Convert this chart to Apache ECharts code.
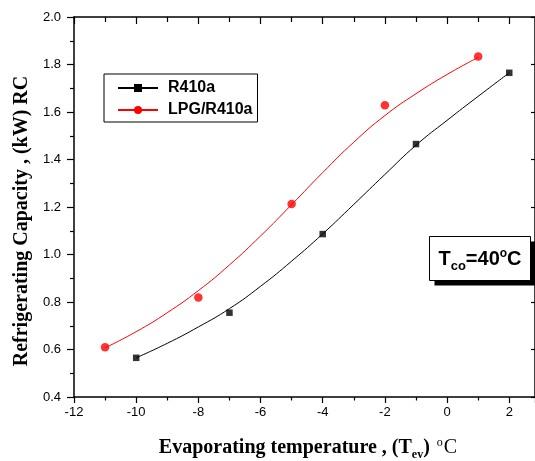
<!DOCTYPE html>
<html>
<head>
<meta charset="utf-8">
<script src="https://cdn.jsdelivr.net/npm/echarts@6/dist/echarts.min.js"></script>
<style>
html,body{margin:0;padding:0;background:#fff;}
#c{width:535px;height:461px;}
</style>
</head>
<body>
<div id="c"></div>
<script>
// Measured data points
const r410X = [-10, -7, -4, -1, 2];
const r410Y = [0.565, 0.755, 1.086, 1.465, 1.765];
const lpgX = [-11, -8, -5, -2, 1];
const lpgY = [0.609, 0.819, 1.213, 1.628, 1.834];

// Fitted curves
const r410CurveX = [-10, -9, -8, -7, -6, -5, -4, -3, -2, -1, 0, 1, 2];
const r410CurveY = [0.565, 0.626, 0.695, 0.772, 0.866, 0.972, 1.087, 1.211, 1.337, 1.460, 1.565, 1.666, 1.765];
const lpgCurveX = [-11, -10, -9, -8, -7, -6, -5, -4, -3, -2, -1, 0, 1];
const lpgCurveY = [0.607, 0.675, 0.755, 0.848, 0.956, 1.078, 1.21, 1.345, 1.473, 1.585, 1.677, 1.758, 1.83];

const xTicks = [-12, -10, -8, -6, -4, -2, 0, 2];
const yTicks = [0.4, 0.6, 0.8, 1.0, 1.2, 1.4, 1.6, 1.8, 2.0];

const zip = (a, b) => a.map((v, i) => [v, b[i]]);

const chart = echarts.init(document.getElementById('c'), null, {renderer: 'canvas'});
const axisLine = {show: true, onZero: false, lineStyle: {color: '#000', width: 1.5}};
const xFmt = v => (xTicks.indexOf(Math.round(v * 1000) / 1000) >= 0 ? String(v) : '');
const yFmt = v => (Math.abs(v - Math.round(v * 10) / 10) < 1e-6 ? v.toFixed(1) : '');

chart.setOption({
  animation: false,
  backgroundColor: '#fff',
  grid: {left: 74, right: 0, top: 17, bottom: 64},
  legend: {
    data: ['R410a', 'LPG/R410a'],
    orient: 'vertical',
    left: 104, top: 74,
    itemWidth: 40, itemHeight: 10, itemGap: 6,
    padding: [6, 5, 4, 13],
    borderColor: '#000', borderWidth: 1,
    backgroundColor: '#fff',
    textStyle: {fontFamily: 'Liberation Sans, Arial', fontWeight: 'bold', fontSize: 16, color: '#000', lineHeight: 16, padding: [0, 0, 0, 5]}
  },
  xAxis: [{
    type: 'value', position: 'bottom', min: -12, max: 2.828, interval: 2,
    axisLine: axisLine,
    axisTick: {show: true, inside: false, length: 6, lineStyle: {color: '#000', width: 1.2}},
    minorTick: {show: true, splitNumber: 2, length: 3.5, lineStyle: {color: '#000', width: 1.2}},
    splitLine: {show: false},
    axisLabel: {fontFamily: 'Liberation Sans, Arial', fontSize: 13, color: '#000', margin: 9, formatter: xFmt, showMaxLabel: false}
  }, {
    type: 'value', position: 'top', min: -12, max: 2.828, interval: 2,
    axisLine: axisLine,
    axisTick: {show: true, inside: true, length: 7, lineStyle: {color: '#000', width: 1.2}},
    minorTick: {show: true, splitNumber: 2, length: 5, lineStyle: {color: '#000', width: 1.2}},
    splitLine: {show: false},
    axisLabel: {show: false}
  }],
  yAxis: [{
    type: 'value', position: 'left', min: 0.4, max: 2.0, interval: 0.2,
    axisLine: axisLine,
    axisTick: {show: true, inside: false, length: 7, lineStyle: {color: '#000', width: 1.2}},
    minorTick: {show: true, splitNumber: 2, length: 4, lineStyle: {color: '#000', width: 1.2}},
    splitLine: {show: false},
    axisLabel: {fontFamily: 'Liberation Sans, Arial', fontSize: 13, color: '#000', margin: 13, formatter: yFmt}
  }, {
    type: 'value', position: 'right', min: 0.4, max: 2.0, interval: 0.2,
    axisLine: axisLine,
    axisTick: {show: true, inside: true, length: 4, lineStyle: {color: '#000', width: 1.2}},
    minorTick: {show: false},
    splitLine: {show: false},
    axisLabel: {show: false}
  }],
  series: [{
    name: 'R410a', type: 'line', data: zip(r410CurveX, r410CurveY), smooth: 0.5,
    symbol: 'rect', showSymbol: false, color: '#000',
    lineStyle: {color: '#000', width: 1}, itemStyle: {color: '#000'}, z: 2
  }, {
    name: 'LPG/R410a', type: 'line', data: zip(lpgCurveX, lpgCurveY), smooth: 0.5,
    symbol: 'circle', showSymbol: false, color: '#ff0000',
    lineStyle: {color: '#ff0000', width: 1}, itemStyle: {color: '#ff0000'}, z: 2
  }, {
    name: 'R410a pts', type: 'scatter', data: zip(r410X, r410Y),
    symbol: 'rect', symbolSize: 6.5, itemStyle: {color: '#000'}, z: 3
  }, {
    name: 'LPG pts', type: 'scatter', data: zip(lpgX, lpgY),
    symbol: 'circle', symbolSize: 8.5, itemStyle: {color: '#ff0000'}, z: 3
  }],
  graphic: [{
    type: 'text', x: 22, y: 221, rotation: Math.PI / 2,
    style: {
      text: 'Refrigerating Capacity , (kW) RC',
      font: 'bold 20px "Liberation Serif", "Times New Roman", serif',
      fill: '#000', align: 'center', verticalAlign: 'middle'
    }
  }, {
    type: 'text', x: 308, y: 448,
    style: {
      text: '{a|Evaporating temperature , (T}{s|ev}{a|) }{u|o}{c|C}',
      align: 'center', verticalAlign: 'middle',
      rich: {
        a: {font: 'bold 20px "Liberation Serif", serif', fill: '#000', lineHeight: 26, verticalAlign: 'middle'},
        s: {font: 'bold 12px "Liberation Serif", serif', fill: '#000', lineHeight: 26, verticalAlign: 'bottom'},
        u: {font: '12px "Liberation Serif", serif', fill: '#000', lineHeight: 26, verticalAlign: 'top', padding: [2, 1, 0, 2]},
        c: {font: '20px "Liberation Serif", serif', fill: '#000', lineHeight: 26, verticalAlign: 'middle'}
      }
    }
  }, {
    type: 'rect', shape: {x: 434.5, y: 241.5, width: 101, height: 44},
    style: {fill: '#000'}, z: 10
  }, {
    type: 'rect', shape: {x: 429.5, y: 236.5, width: 101, height: 44},
    style: {fill: '#fff', stroke: '#000', lineWidth: 1}, z: 11
  }, {
    type: 'text', x: 480, y: 259, z: 12,
    style: {
      text: '{t|T}{s|co}{t|=40}{u|o}{t|C}',
      align: 'center', verticalAlign: 'middle',
      rich: {
        t: {font: 'bold 20px "Liberation Sans", Arial', fill: '#000', lineHeight: 28, verticalAlign: 'middle'},
        s: {font: 'bold 13px "Liberation Sans", Arial', fill: '#000', lineHeight: 28, verticalAlign: 'bottom'},
        u: {font: 'bold 12px "Liberation Sans", Arial', fill: '#000', lineHeight: 28, verticalAlign: 'top', padding: [3, 0, 0, 0]}
      }
    }
  }]
});
</script>
</body>
</html>
